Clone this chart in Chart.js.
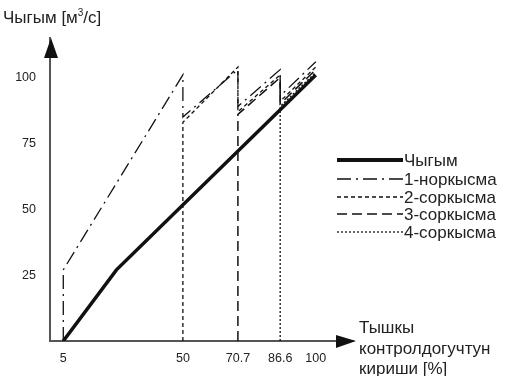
<!DOCTYPE html>
<html>
<head>
<meta charset="utf-8">
<script src="https://cdn.jsdelivr.net/npm/chart.js@4"></script>
<style>
  html, body { margin: 0; padding: 0; background: #fff; }
  #wrap { width: 509px; height: 376px; }
</style>
</head>
<body>
<div id="wrap"><canvas id="myChart"></canvas></div>
<script>
// tick labels
const xTicks = [5, 50, 70.7, 86.6, 100];
const yTicks = [25, 50, 75, 100];

// series (x = input %, y = flow)
const outX = [5, 25, 100];
const outY = [0, 27, 101];
const pump1X = [5, 5, 50, 50, 70.7, 70.7, 86.6, 86.6, 100];
const pump1Y = [0, 27, 101, 85, 103, 89, 103, 93, 106];
const pump2X = [50, 50, 70.7, 70.7, 86.6, 86.6, 100];
const pump2Y = [0, 83, 104, 87, 101, 91, 104];
const pump3X = [70.7, 70.7, 86.6, 86.6, 100];
const pump3Y = [0, 86, 100, 90, 103];
const pump4X = [86.6, 86.6, 100];
const pump4Y = [0, 89, 102];

const labels = ['Чыгым', '1-норкысма', '2-соркысма', '3-соркысма', '4-соркысма'];

function pts(xs, ys) {
    return xs.map(function(x, i) { return {x: x, y: ys[i]}; });
}

const FONT = '"Liberation Sans", Arial, sans-serif';

const decor = {
    id: 'decor',
    afterDraw: function(chart) {
        const ctx = chart.ctx;
        const a = chart.chartArea;
        ctx.save();
        // arrows
        ctx.fillStyle = '#111';
        ctx.beginPath();
        ctx.moveTo(a.left + 1, a.top);
        ctx.lineTo(a.left - 6, a.top + 20);
        ctx.lineTo(a.left + 8, a.top + 20);
        ctx.closePath();
        ctx.fill();
        ctx.beginPath();
        ctx.moveTo(a.right + 3, a.bottom);
        ctx.lineTo(a.right - 17, a.bottom - 6);
        ctx.lineTo(a.right - 17, a.bottom + 7);
        ctx.closePath();
        ctx.fill();

        // axis titles
        ctx.fillStyle = '#222';
        ctx.font = '17px ' + FONT;
        ctx.textBaseline = 'middle';
        ctx.textAlign = 'left';
        ctx.fillText('Чыгым [м', 3, 18);
        let w = ctx.measureText('Чыгым [м').width;
        ctx.font = '10px ' + FONT;
        ctx.fillText('3', 3 + w, 13);
        let w2 = ctx.measureText('3').width;
        ctx.font = '17px ' + FONT;
        ctx.fillText('/с]', 3 + w + w2, 18);

        ctx.fillText('Тышкы', 359, 328);
        ctx.fillText('контролдогучтун', 359, 349);
        ctx.fillText('кириши [%]', 359, 369);

        // legend
        ctx.font = '17px ' + FONT;
        const rows = [160, 179, 197, 214, 232];
        chart.data.datasets.forEach(function(ds, i) {
            ctx.strokeStyle = ds.borderColor;
            ctx.lineWidth = i === 0 ? 4 : ds.borderWidth;
            ctx.setLineDash(ds.borderDash || []);
            ctx.beginPath();
            ctx.moveTo(337, rows[i]);
            ctx.lineTo(403, rows[i]);
            ctx.stroke();
            ctx.setLineDash([]);
            ctx.fillStyle = '#222';
            ctx.fillText(ds.label, 404, rows[i] + 1);
        });
        ctx.restore();
    }
};

new Chart(document.getElementById('myChart'), {
    type: 'line',
    data: {
        datasets: [
            { label: labels[0], data: pts(outX, outY), borderColor: '#111', borderWidth: 3.5 },
            { label: labels[1], data: pts(pump1X, pump1Y), borderColor: '#111', borderWidth: 1.3, borderDash: [14, 5, 2, 5] },
            { label: labels[2], data: pts(pump2X, pump2Y), borderColor: '#111', borderWidth: 1.3, borderDash: [4, 3] },
            { label: labels[3], data: pts(pump3X, pump3Y), borderColor: '#111', borderWidth: 1.5, borderDash: [10, 5] },
            { label: labels[4], data: pts(pump4X, pump4Y), borderColor: '#111', borderWidth: 1.3, borderDash: [2, 2] }
        ]
    },
    options: {
        responsive: true,
        maintainAspectRatio: false,
        animation: false,
        elements: { point: { radius: 0 }, line: { tension: 0, fill: false } },
        layout: { padding: { top: 38, right: 156, left: 0, bottom: 0 } },
        plugins: { legend: { display: false }, tooltip: { enabled: false } },
        scales: {
            x: {
                type: 'linear', min: 0, max: 114,
                grid: { display: false, drawTicks: false },
                border: { color: '#555', width: 2 },
                afterBuildTicks: function(s) { s.ticks = xTicks.map(function(v) { return {value: v}; }); },
                afterFit: function(s) { s.height = 35; },
                ticks: { padding: 10, color: '#222', font: { size: 12.5, family: FONT }, maxRotation: 0,
                         callback: function(v) { return String(v); } }
            },
            y: {
                type: 'linear', min: 0, max: 115,
                grid: { display: false, drawTicks: false },
                border: { color: '#555', width: 2 },
                afterBuildTicks: function(s) { s.ticks = yTicks.map(function(v) { return {value: v}; }); },
                afterFit: function(s) { s.width = 50; },
                ticks: { padding: 14, color: '#222', font: { size: 12.5, family: FONT } }
            }
        }
    },
    plugins: [decor]
});
</script>
</body>
</html>
